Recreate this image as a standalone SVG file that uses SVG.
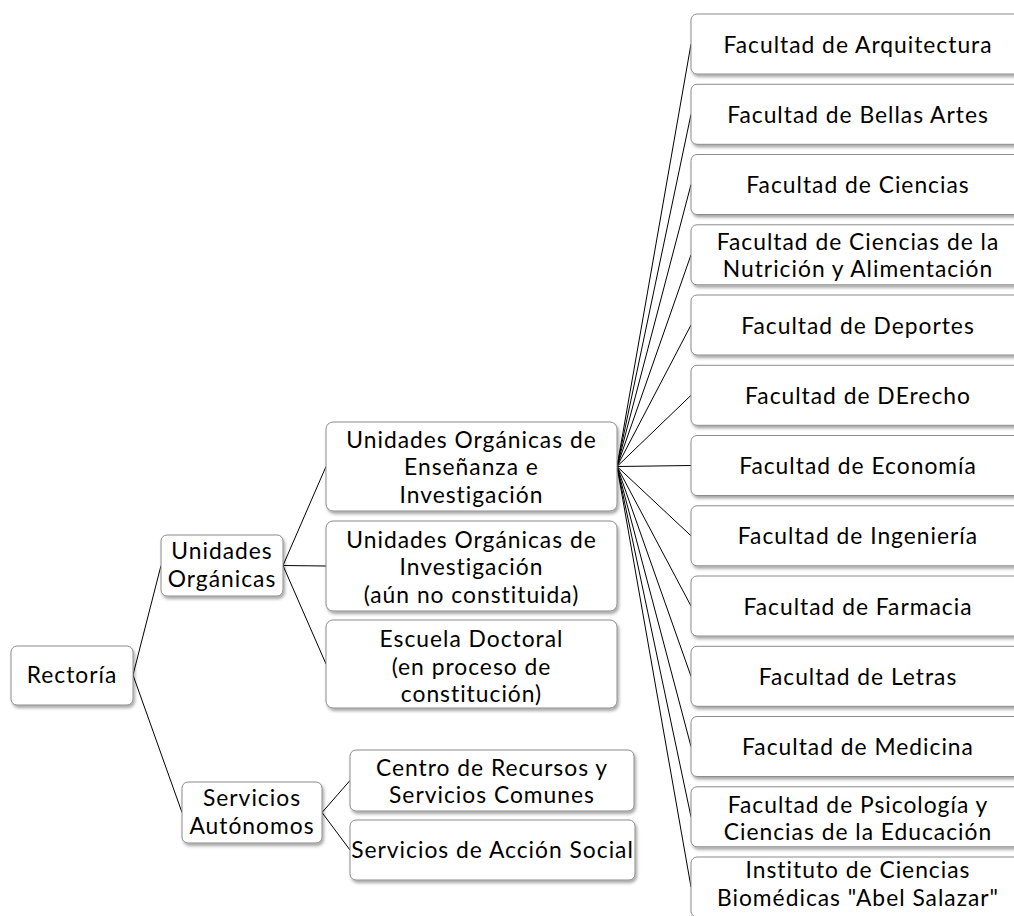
<svg xmlns="http://www.w3.org/2000/svg" width="1014" height="916" viewBox="0 0 1014 916">
  <defs>
    <filter id="shadow" x="-10%" y="-10%" width="130%" height="140%">
      <feDropShadow dx="1.5" dy="2.5" stdDeviation="1.5" flood-color="#000" flood-opacity="0.35"/>
    </filter>
    <style>
      .box { fill: #fff; stroke: #8c8c8c; stroke-width: 1; filter: url(#shadow); }
      .lbl { font-family: Lato, "Open Sans", "Liberation Sans", sans-serif; font-size: 22.8px; letter-spacing: 1px; fill: #000; text-anchor: middle; }
      .link { stroke: #000; stroke-width: 1; fill: none; }
    </style>
  </defs>
  <rect width="1014" height="916" fill="#fff"/>

  <!-- connectors -->
  <g id="connectors" class="link">
    <path d="M133 675 L161 565.5 M133 675 L182 812.5"/>
    <path d="M283 565.5 L326 466.5 M283 565.5 L326 566 M283 565.5 L326 664"/>
    <path d="M322 812.5 L350 780.5 M322 812.5 L350 850"/>
    <path d="M617 466.5 L691 44 M617 466.5 L691 114.3 M617 466.5 L691 184.5 M617 466.5 L691 254.8 M617 466.5 L691 325 M617 466.5 L691 395.3 M617 466.5 L691 465.5 M617 466.5 L691 535.8 M617 466.5 L691 606 M617 466.5 L691 676.3 M617 466.5 L691 746.5 M617 466.5 L691 816.8 M617 466.5 L691 887"/>
  </g>

  <!-- root -->
  <g id="rectoria">
    <rect class="box" x="11" y="646" width="122" height="59" rx="6"/>
    <text class="lbl" x="72" y="683">Rectoría</text>
  </g>

  <!-- second level -->
  <g id="unidades-organicas">
    <rect class="box" x="161" y="535" width="122" height="61" rx="6"/>
    <text class="lbl" x="222" y="559">Unidades</text>
    <text class="lbl" x="222" y="586.5">Orgánicas</text>
  </g>
  <g id="servicios-autonomos">
    <rect class="box" x="182" y="782" width="140" height="61" rx="6"/>
    <text class="lbl" x="252" y="806">Servicios</text>
    <text class="lbl" x="252" y="833.5">Autónomos</text>
  </g>

  <!-- third level -->
  <g id="uo-ensenanza">
    <rect class="box" x="326" y="422" width="291" height="89" rx="7"/>
    <text class="lbl" x="471.5" y="447.5">Unidades Orgánicas de</text>
    <text class="lbl" x="471.5" y="475">Enseñanza e</text>
    <text class="lbl" x="471.5" y="502.5">Investigación</text>
  </g>
  <g id="uo-investigacion">
    <rect class="box" x="326" y="521" width="291" height="90" rx="7"/>
    <text class="lbl" x="471.5" y="547.5">Unidades Orgánicas de</text>
    <text class="lbl" x="471.5" y="575">Investigación</text>
    <text class="lbl" x="471.5" y="602.5">(aún no constituida)</text>
  </g>
  <g id="escuela-doctoral">
    <rect class="box" x="326" y="620" width="291" height="88" rx="7"/>
    <text class="lbl" x="471.5" y="647">Escuela Doctoral</text>
    <text class="lbl" x="471.5" y="674.5">(en proceso de</text>
    <text class="lbl" x="471.5" y="702">constitución)</text>
  </g>
  <g id="centro-recursos">
    <rect class="box" x="350" y="750" width="284" height="61" rx="6"/>
    <text class="lbl" x="492" y="775.5">Centro de Recursos y</text>
    <text class="lbl" x="492" y="803">Servicios Comunes</text>
  </g>
  <g id="accion-social">
    <rect class="box" x="350" y="820" width="285" height="60" rx="6"/>
    <text class="lbl" x="492.5" y="858">Servicios de Acción Social</text>
  </g>

  <!-- faculties -->
  <g id="f-arquitectura">
    <rect class="box" x="691" y="14" width="335" height="60" rx="6"/>
    <text class="lbl" x="858" y="52.5">Facultad de Arquitectura</text>
  </g>
  <g id="f-bellas-artes">
    <rect class="box" x="691" y="84.3" width="335" height="60" rx="6"/>
    <text class="lbl" x="858" y="122.8">Facultad de Bellas Artes</text>
  </g>
  <g id="f-ciencias">
    <rect class="box" x="691" y="154.5" width="335" height="60" rx="6"/>
    <text class="lbl" x="858" y="193">Facultad de Ciencias</text>
  </g>
  <g id="f-nutricion">
    <rect class="box" x="691" y="224.8" width="335" height="60" rx="6"/>
    <text class="lbl" x="858" y="249.5">Facultad de Ciencias de la</text>
    <text class="lbl" x="858" y="277">Nutrición y Alimentación</text>
  </g>
  <g id="f-deportes">
    <rect class="box" x="691" y="295" width="335" height="60" rx="6"/>
    <text class="lbl" x="858" y="333.5">Facultad de Deportes</text>
  </g>
  <g id="f-derecho">
    <rect class="box" x="691" y="365.3" width="335" height="60" rx="6"/>
    <text class="lbl" x="858" y="403.8">Facultad de DErecho</text>
  </g>
  <g id="f-economia">
    <rect class="box" x="691" y="435.5" width="335" height="60" rx="6"/>
    <text class="lbl" x="858" y="474">Facultad de Economía</text>
  </g>
  <g id="f-ingenieria">
    <rect class="box" x="691" y="505.8" width="335" height="60" rx="6"/>
    <text class="lbl" x="858" y="544.3">Facultad de Ingeniería</text>
  </g>
  <g id="f-farmacia">
    <rect class="box" x="691" y="576" width="335" height="60" rx="6"/>
    <text class="lbl" x="858" y="614.5">Facultad de Farmacia</text>
  </g>
  <g id="f-letras">
    <rect class="box" x="691" y="646.3" width="335" height="60" rx="6"/>
    <text class="lbl" x="858" y="684.8">Facultad de Letras</text>
  </g>
  <g id="f-medicina">
    <rect class="box" x="691" y="716.5" width="335" height="60" rx="6"/>
    <text class="lbl" x="858" y="755">Facultad de Medicina</text>
  </g>
  <g id="f-psicologia">
    <rect class="box" x="691" y="786.8" width="335" height="60" rx="6"/>
    <text class="lbl" x="858" y="812.5">Facultad de Psicología y</text>
    <text class="lbl" x="858" y="840">Ciencias de la Educación</text>
  </g>
  <g id="i-biomedicas">
    <rect class="box" x="691" y="857" width="335" height="60" rx="6"/>
    <text class="lbl" x="858" y="878">Instituto de Ciencias</text>
    <text class="lbl" x="858" y="905.5">Biomédicas "Abel Salazar"</text>
  </g>
</svg>
